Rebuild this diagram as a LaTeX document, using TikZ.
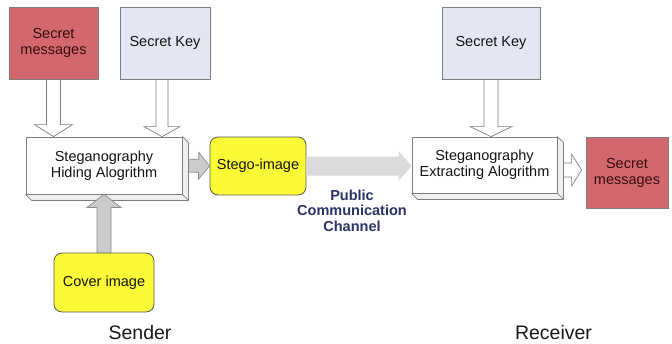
\documentclass[tikz,border=0pt]{standalone}
\usepackage{fontspec}
\setmainfont{Liberation Sans}
\usetikzlibrary{calc}

\definecolor{msgred}{RGB}{210,104,110}
\definecolor{keyblue}{RGB}{228,231,243}
\definecolor{stegoyellow}{RGB}{250,250,55}
\definecolor{edgegray}{RGB}{125,125,125}
\definecolor{chanblue}{RGB}{43,52,100}
\definecolor{msgtext}{RGB}{55,12,12}

% block arrow: style, start, tip, shaft half width, head half width, head length
\newcommand\blockarrow[6]{%
  \coordinate (bahb) at ($(#3)!#6!(#2)$);
  \path[#1] ($(#2)!#4!90:(#3)$) -- ($(bahb)!#4!90:(#3)$) -- ($(bahb)!#5!90:(#3)$)
    -- (#3) -- ($(bahb)!#5!-90:(#3)$) -- ($(bahb)!#4!-90:(#3)$)
    -- ($(#2)!#4!-90:(#3)$) -- cycle;}

% side and bottom faces of a raised box
\newcommand\extrude[1]{%
  \path[extrusion] (#1.north east) -- ++(6,6) -- ($(#1.south east)+(6,6)$)
    -- (#1.south east) -- cycle;
  \path[extrusion] (#1.south west) -- ++(6,6) -- ($(#1.south east)+(6,6)$)
    -- (#1.south east) -- cycle;}

\tikzset{
  box/.style={draw=edgegray, line width=0.8pt, inner sep=0pt, align=center,
    font=\fontsize{14.5}{16}\selectfont, text=black!92},
  redbox/.style={box, fill=msgred, text=msgtext},
  keybox/.style={box, fill=keyblue},
  algbox/.style={box, fill=white},
  stegobox/.style={box, fill=stegoyellow, draw=black!65, rounded corners=8pt},
  extrusion/.style={draw=edgegray, fill=black!6, line width=0.7pt, line join=round},
  hollowarrow/.style={draw=edgegray, fill=white, line width=0.7pt},
  grayarrow/.style={draw=black!45, fill=black!20, line width=0.7pt},
  chanarrow/.style={fill=black!14},
  caption/.style={font=\fontsize{19.5}{20}\selectfont, text=black!90, inner sep=0pt}
}

\begin{document}
\begin{tikzpicture}[x=1pt, y={(0pt,-1pt)}]
\useasboundingbox (0,0) rectangle (672,343);
\fill[white] (0,0) rectangle (672,343);

% sender side
\node[redbox, minimum width=89pt, minimum height=72pt] (msgL) at (53.5,43) {Secret\\messages};
\node[keybox, minimum width=90pt, minimum height=72pt] (keyL) at (165,43) {Secret Key};
\node[algbox, minimum width=156pt, minimum height=57pt] (hide) at (104,165.5) {Steganography\\Hiding Alogrithm};
\node[stegobox, minimum width=96pt, minimum height=58pt] (stego) at (258,166) {Stego-image};
\node[stegobox, minimum width=100pt, minimum height=59pt] (cover) at (104,282.5) {Cover image};

% receiver side
\node[keybox, minimum width=98pt, minimum height=72pt] (keyR) at (491,43) {Secret Key};
\node[algbox, minimum width=145pt, minimum height=56pt] (extract) at (484.5,165) {Steganography\\Extracting Alogrithm};
\node[redbox, minimum width=82pt, minimum height=71pt] (msgR) at (627,172.5) {Secret\\messages};

% channel label and captions
\node[font=\bfseries\fontsize{14.5}{15.5}\selectfont, text=chanblue, align=center, inner sep=0pt]
  (chan) at (352,210.5) {Public\\Communication\\Channel};
\node[caption] (sender) at (140,332.5) {Sender};
\node[caption] (receiver) at (553.5,332.5) {Receiver};

% arrows that run behind the raised faces
\blockarrow{grayarrow}{hide.east}{stego.west}{6.5pt}{13.5pt}{11pt}
\coordinate (oa) at ($(extract.east)+(0,5)$);
\coordinate (ob) at ($(msgR.west |- oa)+(-4,0)$);
\blockarrow{hollowarrow}{oa}{ob}{7pt}{16pt}{10pt}

\extrude{hide}
\extrude{extract}

% public channel
\coordinate (chanend) at (extract.west |- stego.east);
\blockarrow{chanarrow}{stego.east}{chanend}{9.5pt}{15pt}{13pt}

% inputs to the algorithms
\coordinate (a1e) at (hide.north -| msgL.south);
\blockarrow{hollowarrow}{msgL.south}{a1e}{7pt}{19pt}{12pt}
\coordinate (a2e) at ($(hide.north -| keyL.south)+(-3,0)$);
\coordinate (a2s) at (keyL.south -| a2e);
\blockarrow{hollowarrow}{a2s}{a2e}{6pt}{18pt}{10pt}
\coordinate (a3e) at (extract.north -| keyR.south);
\blockarrow{hollowarrow}{keyR.south}{a3e}{7pt}{21pt}{10pt}
\blockarrow{grayarrow}{cover.north}{hide.south}{7pt}{17pt}{13pt}
\end{tikzpicture}
\end{document}
